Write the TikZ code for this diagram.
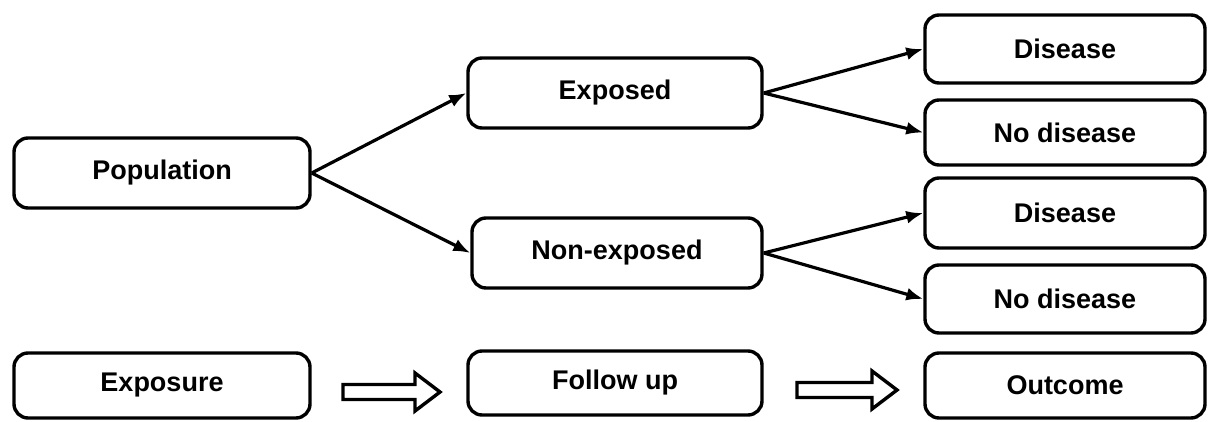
\documentclass[tikz,border=0pt]{standalone}
\usepackage{fontspec}
\setmainfont{Liberation Sans}
\usetikzlibrary{arrows.meta}
\begin{document}
\begin{tikzpicture}[x=1pt,y=1pt,
  box/.style={draw=black, line width=3.4pt, rounded corners=14pt, inner sep=0pt,
    font=\fontsize{27}{32}\selectfont\bfseries, text=black},
  conn/.style={line width=3.2pt, -{Latex[length=17pt,width=13pt]}},
  hollow/.style={draw=black, line width=3.4pt, fill=white, line join=miter}
]
\fill[white] (0,0) rectangle (1213,421);
\useasboundingbox (0,0) rectangle (1213,421);

\node[box, minimum width=296pt, minimum height=70pt] (pop) at (162,248) {Population};
\node[box, minimum width=294pt, minimum height=70pt] (exp) at (615,328) {Exposed};
\node[box, minimum width=290pt, minimum height=70pt] (nexp) at (617,168) {Non-exposed};
\node[box, minimum width=280pt, minimum height=68pt] (d1) at (1065,372) {Disease};
\node[box, minimum width=280pt, minimum height=65pt] (nd1) at (1065,288.5) {No disease};
\node[box, minimum width=280pt, minimum height=70pt] (d2) at (1065,208) {Disease};
\node[box, minimum width=280pt, minimum height=68pt] (nd2) at (1065,122) {No disease};
\node[box, minimum width=296pt, minimum height=65pt] (expo) at (162,35.5) {Exposure};
\node[box, minimum width=294pt, minimum height=64pt] (fu) at (615,38) {Follow up};
\node[box, minimum width=280pt, minimum height=65pt] (out) at (1065,35.5) {Outcome};

\draw[conn] (pop.east) -- (exp.west);
\draw[conn] (pop.east) -- (nexp.west);
\draw[conn] (exp.east) -- (d1.west);
\draw[conn] (exp.east) -- (nd1.west);
\draw[conn] (nexp.east) -- (d2.west);
\draw[conn] (nexp.east) -- (nd2.west);

% hollow block arrows between the bottom boxes
\coordinate (h1) at (343,29);
\coordinate (h2) at (797,31);
\draw[hollow] (h1) ++(0,7.5) -- ++(72,0) -- ++(0,11.5) -- ++(25,-19) -- ++(-25,-19) -- ++(0,11.5) -- ++(-72,0) -- cycle;
\draw[hollow] (h2) ++(0,7.5) -- ++(75,0) -- ++(0,11.5) -- ++(25,-19) -- ++(-25,-19) -- ++(0,11.5) -- ++(-75,0) -- cycle;
\end{tikzpicture}
\end{document}
